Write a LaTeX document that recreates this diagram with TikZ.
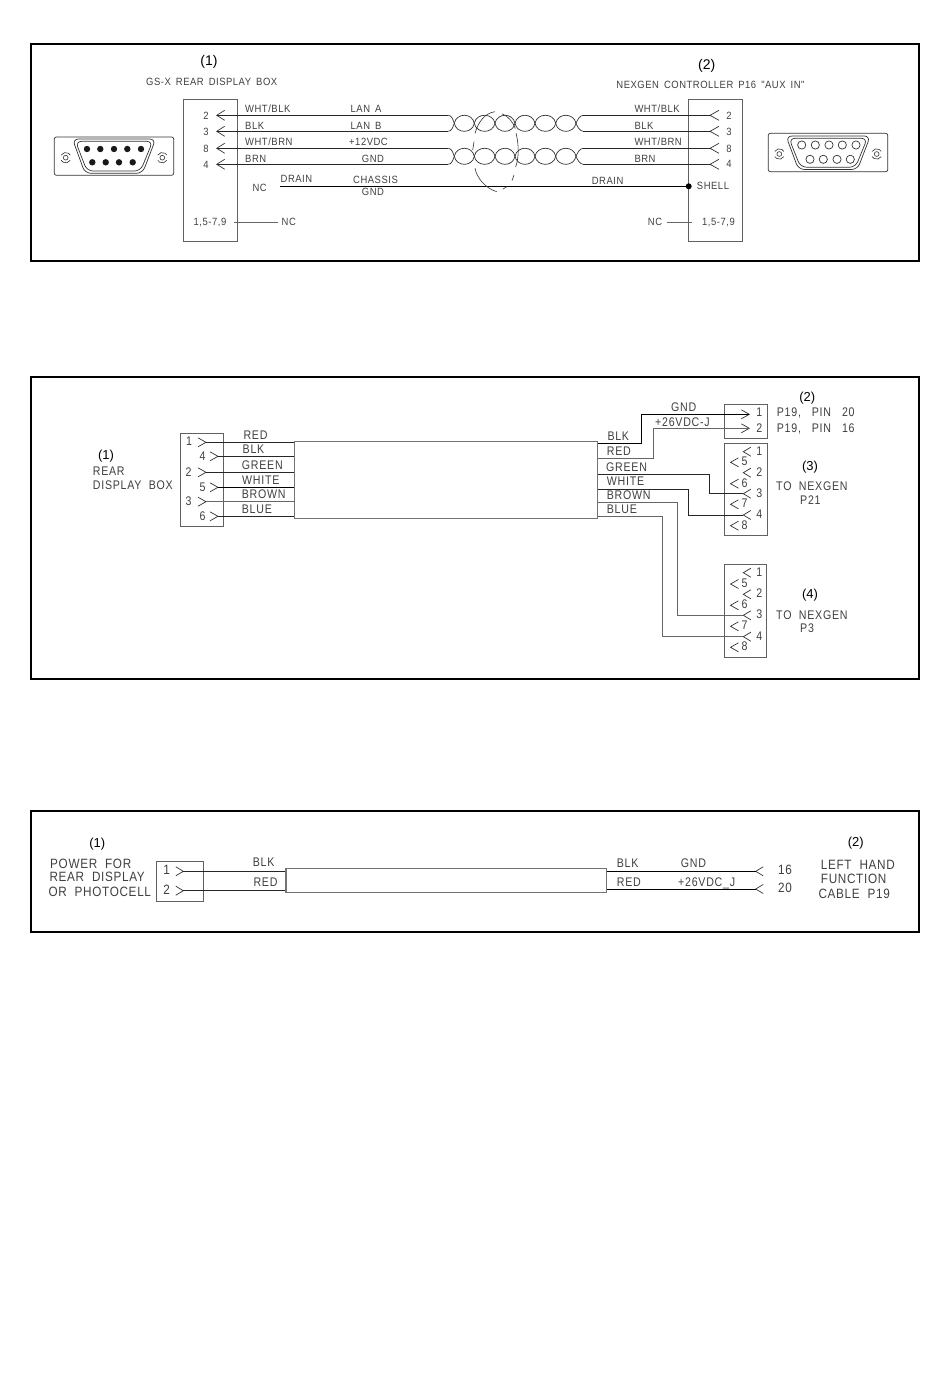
\documentclass[tikz,border=0pt]{standalone}
\usepackage{fontspec}
\setmainfont{Liberation Sans}
\newfontfamily\cadS[LetterSpace=5,WordSpace=1.6,FakeStretch=0.9]{Liberation Sans}
\newfontfamily\cadM[LetterSpace=6,WordSpace=2,FakeStretch=0.85]{Liberation Sans}
\newfontfamily\cadL[LetterSpace=5,WordSpace=2,FakeStretch=0.87]{Liberation Sans}
\definecolor{ink}{gray}{0.25}
\definecolor{boxline}{gray}{0.38}
\tikzset{
  x=1pt,y=-1pt,
  frame/.style={draw=black,line width=2pt},
  wire/.style={draw=black!85,line width=0.9pt},
  thinw/.style={draw=black!80,line width=0.7pt},
  palewire/.style={draw=black!60,line width=1pt},
  boxl/.style={draw=boxline,line width=0.9pt},
  cablebox/.style={draw=black!55,line width=1pt},
  cablethick/.style={draw=black!55,line width=1.4pt},
  head/.style={draw=black!80,line width=0.7pt},
  shield/.style={draw=black!80,line width=0.6pt},
  base/.style={inner sep=0pt,text height=.72em,text depth=0pt,text=ink},
  sm/.style={base,font=\fontsize{10.5}{11}\cadS},
  md/.style={base,font=\fontsize{12.5}{13}\cadM},
  lg/.style={base,font=\fontsize{13.5}{14}\cadL},
  call/.style={inner sep=0pt,text=black,font=\fontsize{13}{14}\selectfont},
  callb/.style={inner sep=0pt,text=black,font=\fontsize{14}{15}\selectfont},
  dsub/.style={draw=black!80,line width=0.7pt,rounded corners=6pt},
  pinhole/.style={draw=black!80,line width=0.7pt,fill=white},
  pinfull/.style={fill=black!90},
}
% pin heads: coordinate at the tip, opening away from the wire
\newcommand{\pinL}[5]{\coordinate (#1) at (#2,#3);
  \draw[head] (#2+#4,#3-#5) -- (#1) -- (#2+#4,#3+#5);}
\newcommand{\pinR}[5]{\coordinate (#1) at (#2,#3);
  \draw[head] (#2-#4,#3-#5) -- (#1) -- (#2-#4,#3+#5);}
% mounting screw of a D-sub
\newcommand{\screw}[2]{\draw[shield] (#1,#2) circle (2.4);
  \draw[shield] (#1+4.5,#2+2.6) arc[start angle=30,end angle=150,radius=5.2];
  \draw[shield] (#1-4.5,#2-2.6) arc[start angle=210,end angle=330,radius=5.2];}
% twisted pair between wire ends
\newcommand{\twist}[3]{%
  \draw[thinw] (448.3,#1) .. controls (452,#1) and (453,#2-3) .. (454.3,#2);
  \draw[thinw] (448.3,#3) .. controls (452,#3) and (453,#2+3) .. (454.3,#2);
  \foreach \a/\b in {454.3/474.3,474.3/495,495/515,515/535,535/555.7,555.7/576}{
    \draw[thinw] (\a,#2) .. controls (\a+2,#2-10.7) and (\b-2,#2-10.7) .. (\b,#2);
    \draw[thinw] (\a,#2) .. controls (\a+2,#2+10.7) and (\b-2,#2+10.7) .. (\b,#2);
  }
  \draw[thinw] (583.3,#1) .. controls (579.5,#1) and (577.3,#2-3) .. (576,#2);
  \draw[thinw] (583.3,#3) .. controls (579.5,#3) and (577.3,#2+3) .. (576,#2);}
\begin{document}
\begin{tikzpicture}
\useasboundingbox (0,0) rectangle (950,1387);
\fill[white] (0,0) rectangle (950,1387);

% ================= PANEL 1 =================
\draw[frame] (31,44) rectangle (919,261);
\node[callb] (a1) at (209,61.7) {(1)};
\node[sm] (a1t) at (211.7,82.3) {GS-X REAR DISPLAY BOX};
\node[callb] (a2) at (706.7,65.7) {(2)};
\node[sm] (a2t) at (710.5,85) {NEXGEN CONTROLLER P16 "AUX IN"};

\node[boxl,minimum width=53.6pt,minimum height=142pt,inner sep=0pt] (boxA) at (210.5,170) {};
\node[boxl,minimum width=54pt,minimum height=142pt,inner sep=0pt] (boxB) at (715.3,170) {};

% left D-sub
\draw[dsub,rounded corners=2pt] (54.3,137) rectangle (173.7,175.3);
\draw[dsub] (72.5,139) -- (155.7,139) -- (142.5,173.3) -- (85,173.3) -- cycle;
\draw[dsub] (75.5,141.3) -- (152.7,141.3) -- (140.5,171) -- (87,171) -- cycle;
\foreach \px in {87,100.3,114,127.3,141}{\fill[pinfull] (\px,149) circle (3.2);}
\foreach \px in {92.3,105.7,119,132.7}{\fill[pinfull] (\px,162.3) circle (3.2);}
\screw{65.7}{157.7}
\screw{162.3}{157.7}

% right D-sub
\draw[dsub,rounded corners=2pt] (768.3,133.3) rectangle (887.7,171.7);
\draw[dsub] (786,136) -- (870.3,136) -- (857.5,169.5) -- (798.5,169.5) -- cycle;
\draw[dsub] (789,138.3) -- (867.3,138.3) -- (855.5,167.2) -- (800.5,167.2) -- cycle;
\foreach \px in {801.7,815.3,829,842.3,856}{\draw[pinhole] (\px,145) circle (4.1);}
\foreach \px in {810,823.3,837,850.3}{\draw[pinhole] (\px,159.3) circle (4.1);}
\screw{779.3}{154}
\screw{876.7}{154}

% pins
\pinL{La2}{216.7}{115.3}{8}{5}
\pinL{La3}{216.7}{131.3}{8}{5}
\pinL{La8}{216.7}{148.3}{8}{5}
\pinL{La4}{216.7}{164.3}{8}{5}
\pinL{Ra2}{710}{115.3}{9}{5}
\pinL{Ra3}{710}{131.3}{9}{5}
\pinL{Ra8}{710}{148.3}{9}{5}
\pinL{Ra4}{710}{164.3}{9}{5}
\node[sm] (n2) at (206,116) {2};
\node[sm] (n3) at (206,131.5) {3};
\node[sm] (n8) at (206,149) {8};
\node[sm] (n4) at (206,164.8) {4};
\node[sm] (m2) at (729,115.5) {2};
\node[sm] (m3) at (729,131.5) {3};
\node[sm] (m8) at (729,148.5) {8};
\node[sm] (m4) at (729,164.3) {4};

% wires into the twists
\coordinate (tw1a) at (448.3,115.3);
\coordinate (tw1b) at (448.3,131.3);
\coordinate (tw2a) at (448.3,148.3);
\coordinate (tw2b) at (448.3,164.3);
\coordinate (tw3a) at (583.3,115.3);
\coordinate (tw3b) at (583.3,131.3);
\coordinate (tw4a) at (583.3,148.3);
\coordinate (tw4b) at (583.3,164.3);
\draw[wire] (La2) -- (tw1a);
\draw[wire] (La3) -- (tw1b);
\draw[wire] (La8) -- (tw2a);
\draw[wire] (La4) -- (tw2b);
\draw[wire] (tw3a) -- (Ra2);
\draw[wire] (tw3b) -- (Ra3);
\draw[wire] (tw4a) -- (Ra8);
\draw[wire] (tw4b) -- (Ra4);
\twist{115.3}{123.3}{131.3}
\twist{148.3}{156.3}{164.3}

% drain
\coordinate (drainL) at (280,186.3);
\coordinate (drainR) at (688.7,186.3);
\draw[wire,draw=black] (drainL) -- (drainR);
\fill[black] (drainR) circle (3);

% shield outline (broken ellipses)
\draw[shield] (475,133.5) .. controls (478,122) and (485,113) .. (495,111.7);
\draw[shield] (502,113.8) .. controls (508,116) and (513,122) .. (515.3,128.5);
\draw[shield] (516,133) .. controls (519,145) and (519,157) .. (515.7,167);
\draw[shield] (514,175) -- (512,180.5);
\draw[shield] (506.7,186.7) -- (502.7,189.3);
\draw[shield] (475,168.3) .. controls (477,178) and (485,188) .. (496.7,191.7);
\draw[shield] (474,141.7) -- (472.7,150);

% panel 1 labels
\node[sm,anchor=west] (l1) at (245,109.3) {WHT/BLK};
\node[sm,anchor=west] (l2) at (245,126) {BLK};
\node[sm,anchor=west] (l3) at (245,142) {WHT/BRN};
\node[sm,anchor=west] (l4) at (245,158.7) {BRN};
\node[sm,anchor=west] (c1) at (350.5,109.3) {LAN A};
\node[sm,anchor=west] (c2) at (350.5,126) {LAN B};
\node[sm,anchor=west] (c3) at (349,142.3) {+12VDC};
\node[sm,anchor=west] (c4) at (361.7,158.7) {GND};
\node[sm,anchor=west] (c5) at (353,180.3) {CHASSIS};
\node[sm,anchor=west] (c6) at (361.7,191.7) {GND};
\node[sm,anchor=west] (r1) at (634.3,109.3) {WHT/BLK};
\node[sm,anchor=west] (r2) at (634.3,126) {BLK};
\node[sm,anchor=west] (r3) at (634.3,142) {WHT/BRN};
\node[sm,anchor=west] (r4) at (634.3,159) {BRN};
\node[sm,anchor=west] (d1) at (280.5,179.3) {DRAIN};
\node[sm,anchor=west] (d2) at (591.7,181) {DRAIN};
\node[sm] (nc1) at (259.7,187.7) {NC};
\node[sm] (sh) at (713,186.3) {SHELL};

\node[sm] (ncA) at (210,222) {1,5-7,9};
\node[sm,anchor=west] (ncA2) at (281.5,222) {NC};
\node[sm] (ncB) at (718.5,222) {1,5-7,9};
\node[sm] (ncB2) at (655,222) {NC};
\coordinate (ncAe) at (234,222);
\coordinate (ncAf) at (278,222);
\coordinate (ncBe) at (666.7,222);
\coordinate (ncBf) at (691.7,222);
\draw[palewire] (ncAe) -- (ncAf);
\draw[palewire] (ncBe) -- (ncBf);

% ================= PANEL 2 =================
\draw[frame] (31,377) rectangle (919,679);
\node[call] (b1) at (106,456) {(1)};
\node[md,anchor=west] (b1a) at (92.7,471.7) {REAR};
\node[md,anchor=west] (b1b) at (92.7,485.7) {DISPLAY BOX};
\node[boxl,minimum width=43pt,minimum height=93pt,inner sep=0pt] (boxC) at (201.8,480.2) {};
\node[cablebox,minimum width=303.3pt,minimum height=77.7pt,inner sep=0pt] (cab2) at (445.65,479.85) {};

\pinR{q1}{206}{442.3}{8}{4.5}
\pinR{q4}{218}{456.3}{8}{4.5}
\pinR{q2}{206}{472.3}{8}{4.5}
\pinR{q5}{218}{487.3}{8}{4.5}
\pinR{q3}{206}{501.7}{8}{4.5}
\pinR{q6}{218}{516.3}{8}{4.5}
\node[md] (qn1) at (189,442) {1};
\node[md] (qn4) at (202.7,457) {4};
\node[md] (qn2) at (188.5,472.5) {2};
\node[md] (qn5) at (202.7,488) {5};
\node[md] (qn3) at (188.5,502) {3};
\node[md] (qn6) at (202.7,516.5) {6};
\draw[wire] (q1) -- (q1 -| cab2.west);
\draw[wire] (q4) -- (q4 -| cab2.west);
\draw[wire] (q2) -- (q2 -| cab2.west);
\draw[wire,draw=black] (q5) -- (q5 -| cab2.west);
\draw[palewire] (q3) -- (q3 -| cab2.west);
\draw[wire] (q6) -- (q6 -| cab2.west);
\node[md,anchor=west] (w1) at (243.3,435.7) {RED};
\node[md,anchor=west] (w2) at (242.5,450) {BLK};
\node[md,anchor=west] (w3) at (241.7,466) {GREEN};
\node[md,anchor=west] (w4) at (242,481) {WHITE};
\node[md,anchor=west] (w5) at (241.7,495.3) {BROWN};
\node[md,anchor=west] (w6) at (241.7,509.7) {BLUE};

% right connector boxes
\node[boxl,minimum width=43pt,minimum height=34pt,inner sep=0pt] (boxD) at (745.8,421.3) {};
\node[boxl,minimum width=43pt,minimum height=92pt,inner sep=0pt] (boxE) at (745.8,489.3) {};
\node[boxl,minimum width=42.4pt,minimum height=93.3pt,inner sep=0pt] (boxF) at (745.5,610.65) {};

\pinR{s1}{749.3}{414.3}{8}{4.5}
\pinR{s2}{749.3}{428.3}{8}{4.5}
\node[md] (sn1) at (759.3,413.3) {1};
\node[md] (sn2) at (759.3,429.3) {2};
\node[call] (b2) at (807.3,398.3) {(2)};
\node[md,anchor=west] (s1t) at (776.7,413.3) {P19,\hspace{3.5pt} PIN\hspace{3.5pt} 20};
\node[md,anchor=west] (s2t) at (776.7,429.3) {P19,\hspace{3.5pt} PIN\hspace{3.5pt} 16};

% box 3 pins
\foreach \nm/\yy in {1/451.7,2/472.7,3/493.7,4/515}{
  \pinL{e\nm}{743.3}{\yy}{7.5}{4.5}
  \node[md] (en\nm) at (759.3,\yy) {\nm};
}
\foreach \nm/\yy in {5/462.3,6/483.7,7/504.3,8/525.7}{
  \pinL{e\nm}{730.5}{\yy}{8}{4.5}
  \node[md] (en\nm) at (744.5,\yy) {\nm};
}
\node[call] (b3) at (810,467.3) {(3)};
\node[md,anchor=west] (b3a) at (776,486.7) {TO NEXGEN};
\node[md,anchor=west] (b3b) at (800,500.7) {P21};

% box 4 pins
\foreach \nm/\yy in {1/572.7,2/594.3,3/615.3,4/636.7}{
  \pinL{f\nm}{743.3}{\yy}{7.5}{4.5}
  \node[md] (fn\nm) at (759.3,\yy) {\nm};
}
\foreach \nm/\yy in {5/584,6/605.3,7/626.3,8/647.3}{
  \pinL{f\nm}{730.5}{\yy}{8}{4.5}
  \node[md] (fn\nm) at (744.5,\yy) {\nm};
}
\node[call] (b4) at (810,595) {(4)};
\node[md,anchor=west] (b4a) at (776,615.7) {TO NEXGEN};
\node[md,anchor=west] (b4b) at (800,629) {P3};

% wires from the cable, routed
\coordinate (cBLK) at (cab2.east |- 0,443.3);
\coordinate (cRED) at (cab2.east |- 0,458.3);
\coordinate (cGRN) at (cab2.east |- 0,474.3);
\coordinate (cWHT) at (cab2.east |- 0,489);
\coordinate (cBRN) at (cab2.east |- 0,502.3);
\coordinate (cBLU) at (cab2.east |- 0,516.7);
\draw[wire,draw=black] (cBLK) -- (641.7,443.3) -- (641.7,414.3) -- (s1);
\draw[palewire] (cRED) -- (653.3,458.3) -- (653.3,428.3) -- (s2);
\draw[wire] (cGRN) -- (709.3,474.3) -- (709.3,493.7) -- (e3);
\draw[wire] (cWHT) -- (688.7,489) -- (688.7,515) -- (e4);
\draw[palewire] (cBRN) -- (677.7,502.3) -- (677.7,615.3) -- (f3);
\draw[palewire] (cBLU) -- (662.7,516.7) -- (662.7,636.7) -- (f4);

\node[md,anchor=west] (x1) at (607.3,436.7) {BLK};
\node[md,anchor=west] (x2) at (606.7,451.7) {RED};
\node[md,anchor=west] (x3) at (606,468) {GREEN};
\node[md,anchor=west] (x4) at (606.7,482.3) {WHITE};
\node[md,anchor=west] (x5) at (606.7,496) {BROWN};
\node[md,anchor=west] (x6) at (606.7,510) {BLUE};
\node[md,anchor=west] (x7) at (671,407.7) {GND};
\node[md,anchor=west] (x8) at (655,423.3) {+26VDC-J};

% ================= PANEL 3 =================
\draw[frame] (31,811) rectangle (919,932);
\node[call] (g1) at (97.3,844) {(1)};
\node[lg,anchor=west] (g1a) at (50,865) {POWER FOR};
\node[lg,anchor=west] (g1b) at (49.3,878.3) {REAR DISPLAY};
\node[lg,anchor=west] (g1c) at (48.3,893) {OR PHOTOCELL};
\node[boxl,minimum width=47.4pt,minimum height=40pt,inner sep=0pt] (boxG) at (180,881.7) {};
\node[cablethick,minimum width=320.7pt,minimum height=23.6pt,inner sep=0pt] (cab3) at (446.35,880.5) {};
\pinR{h1}{183.3}{871.3}{7.5}{4.5}
\pinR{h2}{183.3}{890.7}{7.5}{4.5}
\node[lg] (hn1) at (166.7,871) {1};
\node[lg] (hn2) at (166.7,890.7) {2};
\draw[wire] (h1) -- (h1 -| cab3.west);
\draw[wire] (h2) -- (h2 -| cab3.west);
\node[md,anchor=west] (h3) at (252.7,863.3) {BLK};
\node[md,anchor=west] (h4) at (253.3,883.3) {RED};

\pinL{j1}{755.7}{871.3}{7.5}{4.5}
\pinL{j2}{755.7}{889}{7.5}{4.5}
\draw[wire,draw=black] (j1 -| cab3.east) -- (j1);
\draw[wire,draw=black] (j2 -| cab3.east) -- (j2);
\node[md,anchor=west] (j3) at (616.7,864.3) {BLK};
\node[md,anchor=west] (j4) at (616.7,882.7) {RED};
\node[md,anchor=west] (j5) at (680.7,864.3) {GND};
\node[md,anchor=west] (j6) at (678,883.3) {+26VDC\_J};
\node[lg] (j7) at (785,870.7) {16};
\node[lg] (j8) at (785,889) {20};
\node[call] (g2) at (855.7,843.3) {(2)};
\node[lg,anchor=west] (g2a) at (820.7,865.7) {LEFT HAND};
\node[lg,anchor=west] (g2b) at (820.7,880) {FUNCTION};
\node[lg,anchor=west] (g2c) at (818.3,895) {CABLE P19};
\end{tikzpicture}
\end{document}
